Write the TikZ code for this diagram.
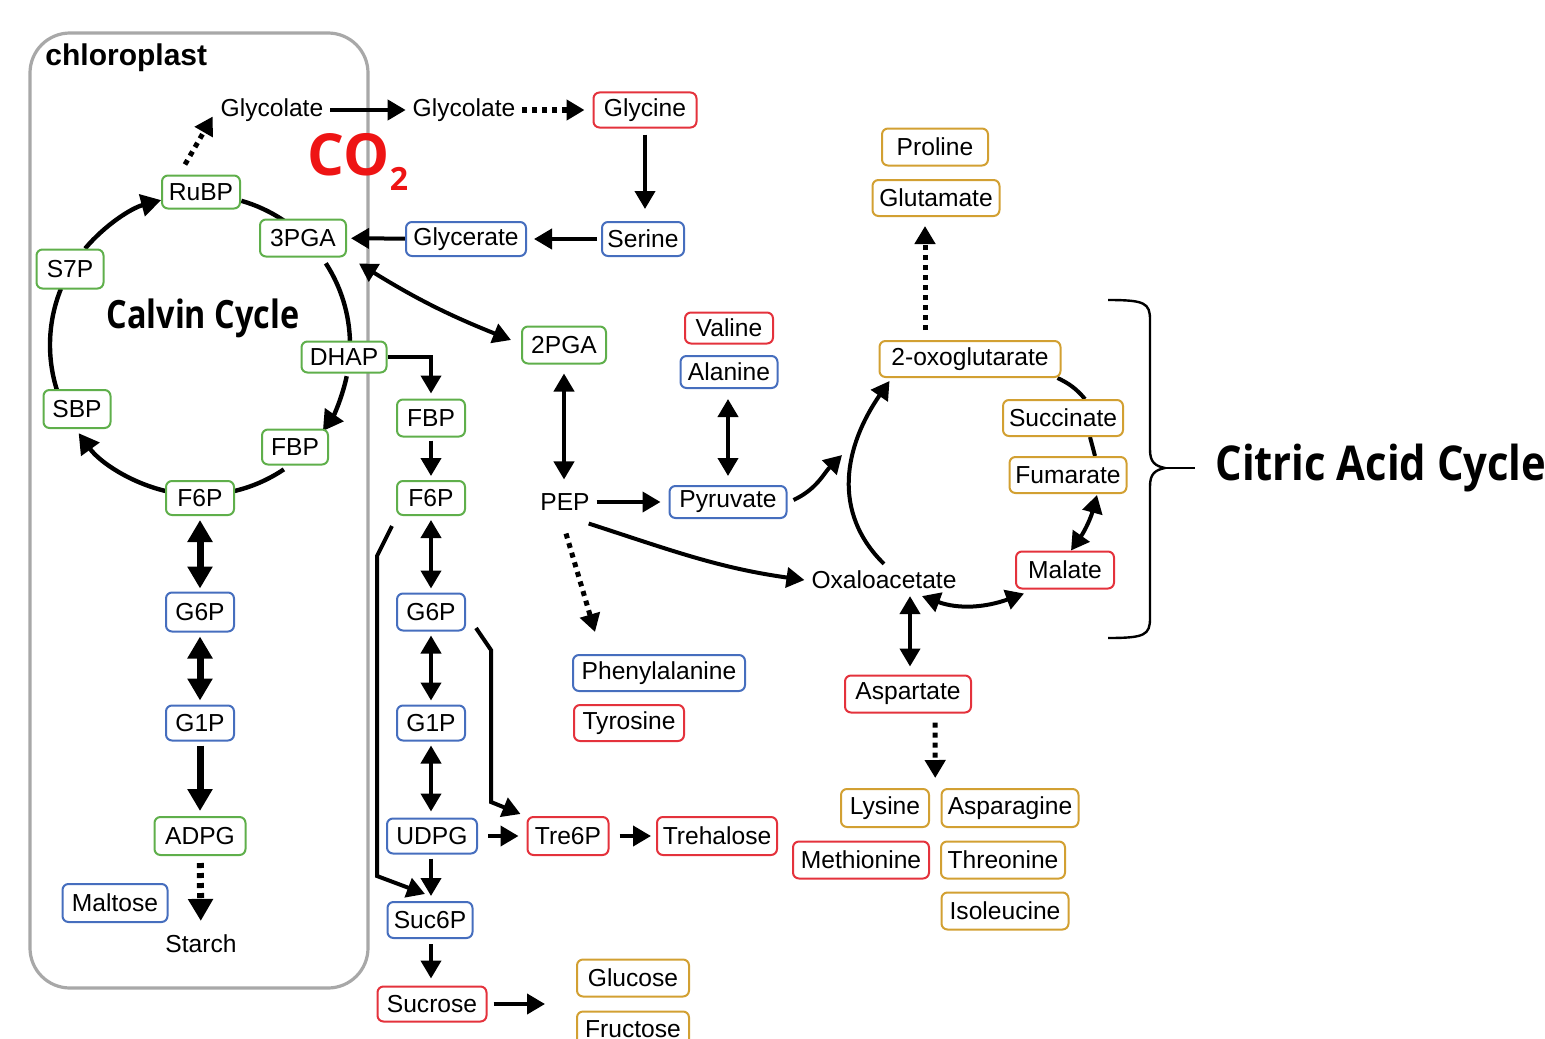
\documentclass[tikz,border=0pt]{standalone}
\usepackage{fontspec}
\setmainfont{Liberation Sans}
\newfontfamily\osans{Open Sans}
\usetikzlibrary{arrows.meta,calc,backgrounds}
\definecolor{cgreen}{RGB}{95,175,75}
\definecolor{cblue}{RGB}{70,110,190}
\definecolor{cred}{RGB}{228,50,60}
\definecolor{cgold}{RGB}{210,160,50}
\definecolor{cgray}{RGB}{168,168,168}
\definecolor{co2red}{RGB}{238,20,20}
\begin{document}
\begin{tikzpicture}[x=0.5pt,y=0.5pt,
  font=\fontsize{12.3}{14}\selectfont,
  box/.style={draw, rounded corners=3pt, line width=1pt, fill=white, inner sep=1pt},
  wh/.style 2 args={minimum width=#1*0.5pt, minimum height=#2*0.5pt},
  gbox/.style={box, draw=cgreen},
  bbox/.style={box, draw=cblue},
  rbox/.style={box, draw=cred},
  ybox/.style={box, draw=cgold},
  arr/.style={line width=2pt, -{Triangle[length=9pt,width=10pt]}},
  darr/.style={line width=2pt, {Triangle[length=9pt,width=10pt]}-{Triangle[length=9pt,width=10pt]}},
  arrL/.style={line width=3.5pt, -{Triangle[length=11pt,width=12pt]}},
  darrL/.style={line width=3.5pt, {Triangle[length=11pt,width=12pt]}-{Triangle[length=11pt,width=12pt]}},
  dotarr/.style={line width=2.5pt, dash pattern=on 2.5pt off 2.5pt, -{Triangle[length=9pt,width=10pt]}},
  dotarrL/.style={line width=3.5pt, dash pattern=on 2.5pt off 2.5pt, -{Triangle[length=11pt,width=12pt]}},
  cyc/.style={line width=2.2pt},
  cycarr/.style={line width=2.2pt, -{Triangle[length=10pt,width=11pt]}},
  thin/.style={line width=2pt}
]
\useasboundingbox (0,0) rectangle (1545,-1038);

% ---------- nodes ----------
\node[font=\bfseries\fontsize{15}{15}\selectfont, anchor=west, inner sep=0pt] (chl) at (45,-58) {chloroplast};
\node[text=co2red, font=\osans\bfseries\fontsize{29}{30}\selectfont] (co2) at (358,-162) {CO\raisebox{-0.25em}{\fontsize{16}{16}\selectfont 2}};
\node[font=\osans\bfseries\fontsize{19.5}{20}\selectfont] (calvin) at (203,-318) {\scalebox{0.83}[1]{Calvin Cycle}};
\node[font=\osans\bfseries\fontsize{24}{26}\selectfont, anchor=west, inner sep=0pt] (citric) at (1215,-468) {\scalebox{0.87}[1]{Citric Acid Cycle}};

\node[gbox, wh={78}{33}] (rubp) at (201,-192) {RuBP};
\node[gbox, wh={86}{37}] (pga3) at (303,-238) {3PGA};
\node[gbox, wh={67}{39}] (s7p) at (70,-269) {S7P};
\node[gbox, wh={67}{38}] (sbp) at (77,-409) {SBP};
\node[gbox, wh={85}{31}] (dhap) at (344,-357) {DHAP};
\node[gbox, wh={66}{35}] (fbpc) at (295,-447) {FBP};
\node[gbox, wh={68}{34}] (f6pc) at (200,-498) {F6P};
\node[bbox, wh={68}{39}] (g6pl) at (200,-612) {G6P};
\node[bbox, wh={68}{35}] (g1pl) at (200,-723) {G1P};
\node[gbox, wh={91}{38}] (adpg) at (200,-836) {ADPG};
\node[bbox, wh={105}{38}] (maltose) at (115,-903) {Maltose};
\node (starch) at (201,-944) {Starch};

\node (glyc1) at (272,-110) {Glycolate};
\node (glyc2) at (464,-110) {Glycolate};
\node[rbox, wh={103}{35}] (glycine) at (645,-110) {Glycine};
\node[bbox, wh={82}{34}] (serine) at (643,-239) {Serine};
\node[bbox, wh={120}{34}] (glycerate) at (466,-239) {Glycerate};
\node[gbox, wh={84}{37}] (pga2) at (564,-345) {2PGA};
\node (pep) at (565,-502) {PEP};
\node[rbox, wh={88}{31}] (valine) at (729,-328) {Valine};
\node[bbox, wh={97}{32}] (alanine) at (729,-372) {Alanine};
\node[bbox, wh={117}{32}] (pyruvate) at (728,-502) {Pyruvate};
\node[bbox, wh={172}{36}] (phe) at (659,-673) {Phenylalanine};
\node[rbox, wh={110}{36}] (tyr) at (629,-723) {Tyrosine};

\node (oaa) at (884,-580) {Oxaloacetate};
\node[ybox, wh={181}{36}] (oxo) at (970,-359) {2-oxoglutarate};
\node[ybox, wh={120}{36}] (succ) at (1063,-418) {Succinate};
\node[ybox, wh={117}{36}] (fum) at (1068,-475) {Fumarate};
\node[rbox, wh={98}{37}] (mal) at (1065,-570) {Malate};
\node[rbox, wh={126}{37}] (asp) at (908,-694) {Aspartate};
\node[ybox, wh={88}{38}] (lys) at (885,-808) {Lysine};
\node[ybox, wh={137}{38}] (asn) at (1010,-808) {Asparagine};
\node[rbox, wh={136}{37}] (met) at (861,-860) {Methionine};
\node[ybox, wh={124}{37}] (thr) at (1003,-860) {Threonine};
\node[ybox, wh={127}{37}] (ile) at (1005,-911) {Isoleucine};
\node[ybox, wh={127}{36}] (glu) at (936,-198) {Glutamate};
\node[ybox, wh={106}{37}] (pro) at (935,-147) {Proline};

\node[gbox, wh={68}{37}] (fbpm) at (431,-418) {FBP};
\node[gbox, wh={68}{34}] (f6pm) at (431,-498) {F6P};
\node[bbox, wh={68}{37}] (g6pm) at (431,-612) {G6P};
\node[bbox, wh={68}{35}] (g1pm) at (431,-723) {G1P};
\node[bbox, wh={90}{35}] (udpg) at (432,-836) {UDPG};
\node[bbox, wh={85}{36}] (suc6p) at (430,-920) {Suc6P};
\node[rbox, wh={109}{35}] (sucrose) at (432,-1004) {Sucrose};
\node[ybox, wh={112}{37}] (glc) at (633,-978) {Glucose};
\node[ybox, wh={112}{35}] (fru) at (633,-1029) {Fructose};
\node[rbox, wh={81}{38}] (tre6p) at (568,-836) {Tre6P};
\node[rbox, wh={120}{38}] (trehalose) at (717,-836) {Trehalose};

\coordinate (cc) at (200,-345);
\coordinate (tcain) at (842,-455);
\coordinate (sugars) at (545,-1004);

% ---------- connectors ----------
\begin{scope}[on background layer]
\draw[cgray, line width=1.6pt, rounded corners=20pt] (30,-33) rectangle (368,-988);

% Calvin cycle
\draw[cyc] ($(cc)+(74:150)$) arc[start angle=74,end angle=56,radius=150];
\draw[cyc] ($(cc)+(33:150)$) arc[start angle=33,end angle=1,radius=150];
\draw[cycarr] ($(cc)+(-12:150)$) arc[start angle=-12,end angle=-35,radius=150];
\draw[cyc] ($(cc)+(-56:150)$) arc[start angle=-56,end angle=-77,radius=150];
\draw[cycarr] ($(cc)+(-103:150)$) arc[start angle=-103,end angle=-144,radius=150];
\draw[cyc] ($(cc)+(-162:150)$) arc[start angle=-162,end angle=-202,radius=150];
\draw[cycarr] ($(cc)+(140:150)$) arc[start angle=140,end angle=105,radius=150];

% photorespiration
\draw[dotarr] ([shift={(-16,10)}]rubp.north) -- ([shift={(-1,12)}]glyc1.south west);
\draw[arr] (glyc1) -- (glyc2);
\draw[dotarr, shorten >=4pt] (glyc2) -- (glycine);
\draw[arr, shorten <=3pt, shorten >=6pt] (glycine.south) -- (glycine.south |- serine.north);
\draw[arr, shorten <=2pt, shorten >=3.5pt] (serine) -- (glycerate);
\draw[arr, shorten >=2pt] (glycerate) -- (pga3);
\draw[darr] ([shift={(12,-6)}]pga3.south east) to[bend right=5] ([shift={(-10,5)}]pga2.west);

% left column
\draw[darrL, shorten <=2pt, shorten >=1.5pt] (f6pc) -- (g6pl);
\draw[darrL, shorten <=2pt, shorten >=2pt] (g6pl) -- (g1pl);
\draw[arrL, shorten <=2pt, shorten >=2.5pt] (g1pl) -- (adpg);
\draw[dotarrL, shorten <=3.5pt, shorten >=3.5pt] (adpg) -- (starch);

% middle column
\draw[arr, shorten >=2.5pt] (dhap.east) -| (fbpm.north);
\draw[arr, shorten <=1.5pt, shorten >=2pt] (fbpm) -- (f6pm);
\draw[darr, shorten <=2pt, shorten >=2pt] (f6pm) -- (g6pm);
\draw[darr, shorten <=2pt, shorten >=2pt] (g6pm) -- (g1pm);
\draw[darr, shorten <=2pt, shorten >=3pt] (g1pm) -- (g1pm |- udpg.north);
\draw[arr, shorten <=2pt, shorten >=2.5pt] (g1pm |- udpg.south) -- (g1pm |- suc6p.north);
\draw[arr, shorten <=2.5pt, shorten >=3.5pt] (g1pm |- suc6p.south) -- (g1pm |- sucrose.north);
\draw[arr, shorten <=3pt] (sucrose) -- (sugars);
\draw[arr, shorten <=5pt, shorten >=4pt] (udpg) -- (tre6p);
\draw[arr, shorten <=5pt, shorten >=2.5pt] (tre6p) -- (trehalose);
\draw[arr] ([shift={(-4,-10)}]f6pm.south west) -- ++(-15,-30) -- ++(0,-320) -- ([shift={(-5,7)}]suc6p.north);
\draw[arr] ([shift={(10,-16)}]g6pm.east) -- ++(15,-22) -- ++(0,-152) -- ([shift={(-6,2)}]tre6p.north west);

% glycolysis and TCA
\draw[darr, shorten <=4.5pt, shorten >=3.5pt] (pga2.south) -- (pga2.south |- pep.north);
\draw[arr, shorten >=4pt] (pep) -- (pyruvate);
\draw[darr, shorten <=4.5pt, shorten >=5pt] (pyruvate.north) -- (pyruvate.north |- alanine.south);
\draw[arr] ([shift={(6,2)}]pyruvate.east) to[out=25,in=-135] (tcain);
\draw[arr] ([shift={(-8,-6)}]pep.south east) to[out=-18,in=172] (oaa.west);
\draw[dotarr] ([shift={(1,-16)}]pep.south) -- ([shift={(-64,22)}]phe.north);
\draw[arr] (oaa.north) .. controls +(-53,52) and +(-45,-65) .. ([shift={(11,-3)}]oxo.south west);
\draw[thin] ([shift={(-4,0)}]oxo.south east) to[bend left=12] ([shift={(22,0)}]succ.north);
\draw[thin] ([shift={(27,0)}]succ.south) -- ([shift={(27,0)}]fum.north);
\draw[darr] ([shift={(29,-1)}]fum.south) to[bend left=10] ([shift={(6,0)}]mal.north);
\draw[darr] ([shift={(9,-4)}]mal.south west) to[out=-160,in=-20] ([shift={(38,0)}]oaa.south);
\draw[darr, shorten >=4pt] ([shift={(2,0)}]asp.north |- oaa.south) -- ([shift={(2,0)}]asp.north);
\draw[dotarr, shorten <=4.5pt, shorten >=5pt] ([shift={(27,0)}]asp.south) -- ($(lys.north east)!0.5!(asn.north west)$);
\draw[dotarr, shorten <=5pt, shorten >=4.5pt] ([shift={(-45,0)}]oxo.north) -- ([shift={(-45,0)}]oxo.north |- glu.south);
\end{scope}

% brace
\draw[line width=1.2pt] (1108,-300) .. controls (1145,-300) and (1150,-303) .. (1150,-320) -- (1150,-450)
  .. controls (1150,-462) and (1155,-466) .. (1165,-468)
  .. controls (1155,-470) and (1150,-474) .. (1150,-486) -- (1150,-618)
  .. controls (1150,-635) and (1145,-638) .. (1108,-638);
\draw[line width=1.2pt] (1165,-468) -- ([shift={(-20,0)}]citric.west);
\end{tikzpicture}
\end{document}
